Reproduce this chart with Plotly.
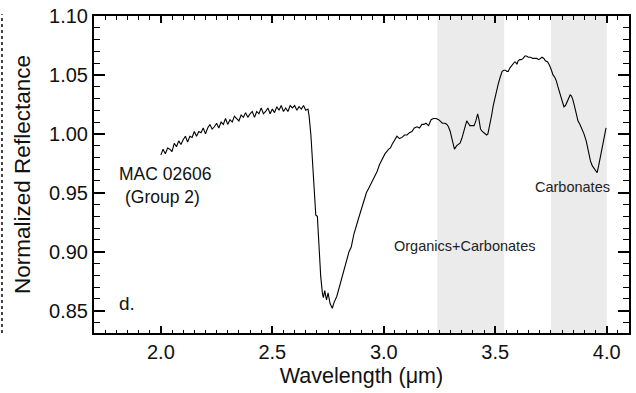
import plotly.graph_objects as go

# ---------------- data ----------------
wavelength = [
    2.00, 2.01, 2.02, 2.03, 2.04, 2.05, 2.06, 2.07, 2.08, 2.09,
    2.10, 2.11, 2.12, 2.13, 2.14, 2.15, 2.16, 2.17, 2.18, 2.19,
    2.20, 2.21, 2.22, 2.23, 2.24, 2.25, 2.26, 2.27, 2.28, 2.29,
    2.30, 2.31, 2.32, 2.33, 2.34, 2.35, 2.36, 2.37, 2.38, 2.39,
    2.40, 2.41, 2.42, 2.43, 2.44, 2.45, 2.46, 2.47, 2.48, 2.49,
    2.50, 2.51, 2.52, 2.53, 2.54, 2.55, 2.56, 2.57, 2.58, 2.59,
    2.60, 2.61, 2.62, 2.63, 2.64, 2.65, 2.66,
    2.665, 2.673, 2.680, 2.6875, 2.695, 2.702, 2.705, 2.710, 2.717, 2.725,
    2.729, 2.735, 2.743, 2.750, 2.759, 2.769, 2.777, 2.789, 2.799, 2.809,
    2.821, 2.833, 2.844, 2.854, 2.866, 2.888, 2.900, 2.911, 2.922, 2.933,
    2.948, 2.960, 2.970, 2.981, 2.992, 3.005, 3.022, 3.030, 3.037, 3.048,
    3.059, 3.070, 3.082, 3.093, 3.104, 3.115, 3.126, 3.137, 3.149, 3.160,
    3.171, 3.180, 3.189, 3.201, 3.212, 3.223, 3.235, 3.246, 3.255, 3.263,
    3.275, 3.283, 3.290, 3.298, 3.308, 3.317, 3.327, 3.335, 3.342, 3.350,
    3.357, 3.365, 3.372, 3.379, 3.386, 3.395, 3.405, 3.413, 3.421, 3.427,
    3.434, 3.442, 3.450, 3.461, 3.467, 3.472, 3.478, 3.484, 3.491, 3.499,
    3.506, 3.513, 3.522, 3.531, 3.539, 3.546, 3.552, 3.558, 3.566, 3.573,
    3.580, 3.587, 3.591, 3.597, 3.603, 3.610, 3.617, 3.625, 3.633, 3.640,
    3.648, 3.659, 3.668, 3.677, 3.686, 3.695, 3.703, 3.710, 3.718, 3.725,
    3.735, 3.744, 3.752, 3.759, 3.767, 3.774, 3.781, 3.789, 3.798, 3.808,
    3.815, 3.823, 3.830, 3.836, 3.842, 3.848, 3.856, 3.864, 3.871, 3.880,
    3.888, 3.898, 3.908, 3.918, 3.927, 3.935, 3.942, 3.950, 3.957, 3.964,
    3.972, 3.980, 3.987, 3.997,
]
reflectance = [
    0.982, 0.987, 0.983, 0.988, 0.987, 0.985, 0.992, 0.989, 0.994, 0.991,
    0.995, 0.998, 0.993, 0.998, 0.997, 1.002, 0.998, 1.002, 1.001, 1.005,
    1.000, 1.005, 1.008, 1.004, 1.006, 1.009, 1.005, 1.010, 1.008, 1.013,
    1.008, 1.012, 1.010, 1.015, 1.013, 1.011, 1.016, 1.014, 1.018, 1.014,
    1.017, 1.019, 1.014, 1.019, 1.017, 1.022, 1.017, 1.019, 1.022, 1.017,
    1.021, 1.018, 1.023, 1.020, 1.024, 1.019, 1.022, 1.019, 1.024, 1.022,
    1.024, 1.020, 1.023, 1.021, 1.024, 1.020, 1.021,
    1.015, 0.999, 0.980, 0.957, 0.931, 0.930, 0.918, 0.895, 0.879, 0.864,
    0.861, 0.867, 0.859, 0.865, 0.856, 0.852, 0.857, 0.862, 0.869, 0.874,
    0.882, 0.891, 0.900, 0.904, 0.915, 0.929, 0.936, 0.943, 0.950, 0.954,
    0.960, 0.965, 0.968, 0.974, 0.978, 0.983, 0.987, 0.988, 0.991, 0.995,
    0.998, 0.996, 0.997, 0.999, 0.999, 1.001, 1.002, 1.005, 1.006, 1.005,
    1.008, 1.008, 1.009, 1.007, 1.012, 1.013, 1.013, 1.012, 1.010, 1.009,
    1.009, 1.008, 1.006, 1.002, 0.994, 0.987, 0.990, 0.991, 0.992, 0.996,
    1.001, 1.007, 1.011, 1.009, 1.007, 1.007, 1.007, 1.011, 1.017, 1.012,
    1.004, 1.002, 1.001, 0.999, 1.000, 1.004, 1.010, 1.016, 1.024, 1.031,
    1.036, 1.042, 1.048, 1.053, 1.054, 1.054, 1.053, 1.053, 1.056, 1.058,
    1.060, 1.061, 1.061, 1.059, 1.062, 1.063, 1.063, 1.064, 1.066, 1.066,
    1.065, 1.065, 1.064, 1.064, 1.064, 1.063, 1.064, 1.065, 1.064, 1.062,
    1.061, 1.058, 1.054, 1.050, 1.048, 1.045, 1.040, 1.035, 1.029, 1.023,
    1.024, 1.027, 1.031, 1.033, 1.032, 1.029, 1.023, 1.016, 1.011, 1.008,
    1.005, 1.000, 0.994, 0.985, 0.977, 0.973, 0.971, 0.969, 0.967, 0.973,
    0.981, 0.989, 0.995, 1.005,
]

band_labels = ["Organics+Carbonates", "Carbonates"]
band_start = [3.24, 3.75]
band_end = [3.54, 4.00]

x_tick_vals = [2.0, 2.5, 3.0, 3.5, 4.0]
x_tick_text = ["2.0", "2.5", "3.0", "3.5", "4.0"]
y_tick_vals = [0.85, 0.90, 0.95, 1.00, 1.05, 1.10]
y_tick_text = ["0.85", "0.90", "0.95", "1.00", "1.05", "1.10"]

sample_name = "MAC 02606"
sample_group = "(Group 2)"
panel_label = "d."

# ---------------- figure ----------------
FONT = "Liberation Sans, Arial, Helvetica, sans-serif"
fig = go.Figure()

for s, e in zip(band_start, band_end):
    fig.add_vrect(x0=s, x1=e, fillcolor="#ebebeb", line_width=0, layer="below")

fig.add_trace(go.Scatter(
    x=wavelength, y=reflectance, mode="lines",
    line=dict(color="black", width=1.1), showlegend=False,
))

fig.add_annotation(x=3.364, y=0.9052, text=band_labels[0], showarrow=False,
                   font=dict(size=14.5, color="#222"), xanchor="center", yanchor="middle")
fig.add_annotation(x=3.846, y=0.955, text=band_labels[1], showarrow=False,
                   font=dict(size=14.5, color="#222"), xanchor="center", yanchor="middle")
fig.add_annotation(x=1.804, y=0.966, text=sample_name, showarrow=False,
                   font=dict(size=17.5, color="#111"), xanchor="left", yanchor="middle")
fig.add_annotation(x=1.828, y=0.9465, text=sample_group, showarrow=False,
                   font=dict(size=17.5, color="#111"), xanchor="left", yanchor="middle")
fig.add_annotation(x=1.804, y=0.8563, text=panel_label, showarrow=False,
                   font=dict(size=19, color="#111"), xanchor="left", yanchor="middle")

# fragment of neighbouring panel at the very left edge
fig.add_shape(type="line", xref="paper", yref="paper",
              x0=-0.172, x1=-0.172, y0=0.0, y1=1.0055,
              line=dict(color="#444", width=2, dash="dot"))

axis_common = dict(
    showline=True, linewidth=2, linecolor="black", mirror="allticks",
    ticks="inside", tickcolor="black", tickwidth=1.5,
    showgrid=False, zeroline=False,
    tickfont=dict(size=20, color="#111"),
)

fig.update_xaxes(
    range=[1.70, 4.10], tickvals=x_tick_vals, ticktext=x_tick_text, ticklen=7,
    minor=dict(ticks="inside", dtick=0.05, tick0=2.0, ticklen=3.5,
               tickcolor="black", tickwidth=1.2),
    title=dict(text="Wavelength (μm)", font=dict(size=21.5, color="#111"), standoff=6),
    **axis_common,
)
fig.update_yaxes(
    range=[0.831, 1.10], tickvals=y_tick_vals, ticktext=y_tick_text, ticklen=11,
    minor=dict(ticks="inside", dtick=0.01, tick0=0.85, ticklen=6,
               tickcolor="black", tickwidth=1.2),
    title=dict(text="Normalized Reflectance", font=dict(size=22.5, color="#111"), standoff=12),
    **axis_common,
)

fig.update_layout(
    width=636, height=393,
    margin=dict(l=94, r=5, t=14, b=60),
    paper_bgcolor="white", plot_bgcolor="white",
    font=dict(family=FONT, color="#111"),
)

fig.write_html("out.html")
